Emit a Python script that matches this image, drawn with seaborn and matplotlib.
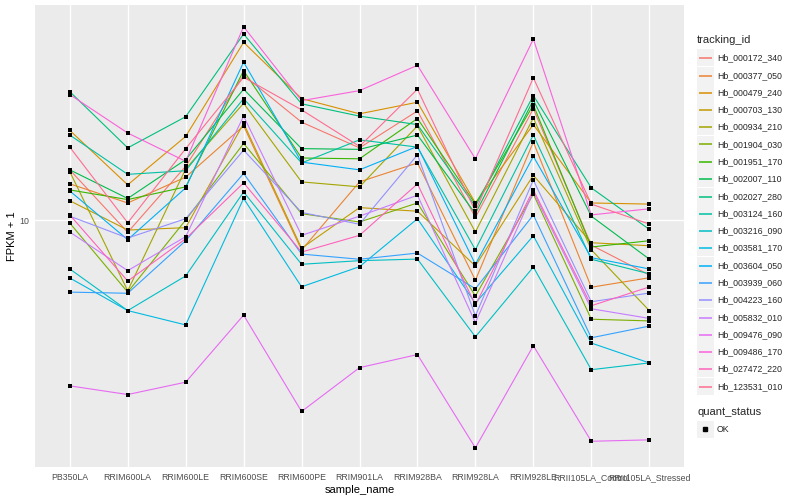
import matplotlib
matplotlib.use('Agg')
import matplotlib.pyplot as plt
import seaborn as sns
import pandas as pd
from matplotlib.lines import Line2D
from matplotlib.patches import Rectangle

# ---------------------------------------------------------------
# data : FPKM + 1 per gene and sample
# ---------------------------------------------------------------
samples = ['PB350LA', 'RRIM600LA', 'RRIM600LE', 'RRIM600SE', 'RRIM600PE',
           'RRIM901LA', 'RRIM928BA', 'RRIM928LA', 'RRIM928LE',
           'RRII105LA_Control', 'RRII105LA_Stressed']

tracking_ids = ['Hb_000172_340', 'Hb_000377_050', 'Hb_000479_240', 'Hb_000703_130',
                'Hb_000934_210', 'Hb_001904_030', 'Hb_001951_170', 'Hb_002007_110',
                'Hb_002027_280', 'Hb_003124_160', 'Hb_003216_090', 'Hb_003581_170',
                'Hb_003604_050', 'Hb_003939_060', 'Hb_004223_160', 'Hb_005832_010',
                'Hb_009476_090', 'Hb_009486_170', 'Hb_027472_220', 'Hb_123531_010']

hb_000172_340 = [14.7, 9.10, 15.1, 30.4, 21.2, 17.4, 23.1, 10.2, 23.5, 8.25, 6.56]
hb_000377_050 = [13.2, 11.4, 13.9, 20.6, 7.94, 13.4, 15.5, 6.30, 18.2, 5.97, 6.42]
hb_000479_240 = [19.9, 13.1, 19.0, 39.1, 25.4, 22.6, 24.7, 11.4, 20.8, 11.4, 11.3]
hb_000703_130 = [11.6, 9.26, 9.43, 21.0, 8.05, 11.0, 10.7, 7.03, 14.1, 8.40, 8.21]
hb_000934_210 = [14.5, 5.81, 14.8, 24.5, 13.4, 12.9, 20.6, 9.12, 21.9, 7.96, 4.99]
hb_001904_030 = [9.77, 5.75, 10.0, 18.0, 10.5, 9.85, 11.4, 5.58, 12.2, 4.67, 4.61]
hb_001951_170 = [12.6, 11.7, 12.9, 31.5, 16.1, 16.0, 21.8, 11.3, 24.2, 8.13, 8.53]
hb_002007_110 = [14.7, 11.8, 15.9, 27.3, 17.3, 17.2, 19.2, 10.5, 25.1, 10.3, 7.41]
hb_002027_280 = [26.8, 17.4, 22.1, 41.7, 24.4, 22.2, 20.8, 11.1, 26.0, 12.8, 9.31]
hb_003124_160 = [19.2, 14.2, 14.6, 25.4, 15.5, 18.5, 17.5, 7.96, 19.2, 7.40, 6.62]
hb_003216_090 = [6.87, 4.99, 6.51, 12.4, 7.12, 7.32, 7.41, 4.08, 6.97, 3.17, 3.34]
hb_003581_170 = [6.41, 4.99, 4.47, 11.8, 5.99, 6.99, 10.1, 5.28, 8.86, 3.89, 3.34]
hb_003604_050 = [12.5, 8.60, 12.8, 33.6, 15.6, 14.7, 17.6, 7.12, 16.3, 7.49, 6.87]
hb_003939_060 = [5.75, 5.70, 8.53, 14.3, 7.70, 7.40, 7.76, 5.90, 10.4, 4.05, 4.43]
hb_004223_160 = [10.3, 8.71, 10.1, 17.1, 10.6, 9.68, 16.5, 4.79, 13.6, 5.34, 5.71]
hb_005832_010 = [9.12, 6.78, 8.80, 22.2, 8.89, 10.3, 12.1, 4.55, 12.4, 5.06, 4.70]
hb_009476_090 = [2.80, 2.62, 2.88, 4.82, 2.30, 3.22, 3.56, 1.74, 3.81, 1.83, 1.85]
hb_009486_170 = [26.2, 19.5, 15.7, 44.1, 25.0, 27.0, 32.8, 16.0, 40.1, 10.4, 10.9]
hb_027472_220 = [10.4, 6.26, 8.66, 13.3, 7.82, 8.89, 13.2, 5.21, 12.6, 5.18, 5.98]
hb_123531_010 = [17.5, 9.79, 17.3, 29.9, 23.3, 17.6, 27.3, 10.7, 29.8, 11.3, 9.70]

series = [hb_000172_340, hb_000377_050, hb_000479_240, hb_000703_130, hb_000934_210,
          hb_001904_030, hb_001951_170, hb_002007_110, hb_002027_280, hb_003124_160,
          hb_003216_090, hb_003581_170, hb_003604_050, hb_003939_060, hb_004223_160,
          hb_005832_010, hb_009476_090, hb_009486_170, hb_027472_220, hb_123531_010]

# ggplot default hue palette for 20 levels
gg_colors = ['#F8766D', '#EA8331', '#D89000', '#C09B00', '#A3A500', '#7CAE00', '#39B600',
             '#00BB4E', '#00BF7D', '#00C1A3', '#00BFC4', '#00BAE0', '#00B0F6', '#35A2FF',
             '#9590FF', '#C77CFF', '#E76BF3', '#FA62DB', '#FF62BC', '#FF6C91']

rows = []
for tid, vals in zip(tracking_ids, series):
    for s, v in zip(samples, vals):
        rows.append({'tracking_id': tid, 'sample_name': s, 'fpkm': v, 'quant_status': 'OK'})
df = pd.DataFrame(rows)

# ---------------------------------------------------------------
# plot
# ---------------------------------------------------------------
sns.set_theme(style='darkgrid', rc={'axes.facecolor': '#EBEBEB', 'grid.color': 'white',
                                    'grid.linewidth': 1.0})
plt.rcParams['font.family'] = ['Liberation Sans', 'DejaVu Sans']

fig = plt.figure(figsize=(8, 5), dpi=100)
ax = fig.add_axes([35 / 800, 1 - 467 / 500, (684 - 35) / 800, (467 - 5) / 500])

pal = dict(zip(tracking_ids, gg_colors))
sns.lineplot(data=df, x='sample_name', y='fpkm', hue='tracking_id', palette=pal,
             linewidth=0.8, legend=False, sort=False, errorbar=None, ax=ax)
sns.scatterplot(data=df, x='sample_name', y='fpkm', color='black', marker='s', s=6,
                linewidth=0, legend=False, ax=ax, zorder=5)

ax.set_yscale('log')
ax.set_ylim(1.502, 52.1)
ax.set_xlim(-0.6, 10.6)
ax.yaxis.set_minor_locator(matplotlib.ticker.NullLocator())
ax.set_yticks([10])
ax.set_yticklabels(['10'])
ax.set_xticks(range(len(samples)))
ax.set_xticklabels(samples)
ax.grid(True, which='major', color='white', linewidth=1.0)
for sp in ax.spines.values():
    sp.set_visible(False)
ax.tick_params(axis='both', which='major', length=3, width=0.8, color='#333333',
               labelsize=6.3, labelcolor='#4D4D4D', pad=1.5)
ax.set_xlabel('sample_name', fontsize=8, color='black', labelpad=2)
ax.set_ylabel('FPKM + 1', fontsize=8, color='black', labelpad=1)

# legend, drawn the ggplot way
def fx(px):
    return px / 800

def fy(py):
    return 1 - py / 500

fig.text(fx(697), fy(40), 'tracking_id', fontsize=8, va='center', ha='left')
for i, (tid, c) in enumerate(zip(tracking_ids, gg_colors)):
    yc = round(57.3 + 17.28 * i) + 0.5
    fig.add_artist(Rectangle((fx(697), fy(yc + 8.4)), 16.5 / 800, 16.8 / 500,
                             facecolor='#F2F2F2', edgecolor='none', transform=fig.transFigure,
                             zorder=1))
    fig.add_artist(Line2D([fx(699), fx(712)], [fy(yc), fy(yc)], color=c, linewidth=1.1,
                          solid_capstyle='butt', transform=fig.transFigure, zorder=3))
    fig.text(fx(717), fy(yc), tid, fontsize=6.3, va='center', ha='left')

fig.text(fx(697), fy(412), 'quant_status', fontsize=8, va='center', ha='left')
fig.add_artist(Rectangle((fx(697), fy(429.3 + 8.4)), 16.5 / 800, 16.8 / 500,
                         facecolor='#F2F2F2', edgecolor='none', transform=fig.transFigure,
                         zorder=1))
fig.add_artist(Line2D([fx(705)], [fy(429.3)], marker='s', markersize=2.4, color='black',
                      linestyle='none', transform=fig.transFigure, zorder=3))
fig.text(fx(717), fy(429.3), 'OK', fontsize=6.3, va='center', ha='left')

fig.savefig('out.png', dpi=100)
